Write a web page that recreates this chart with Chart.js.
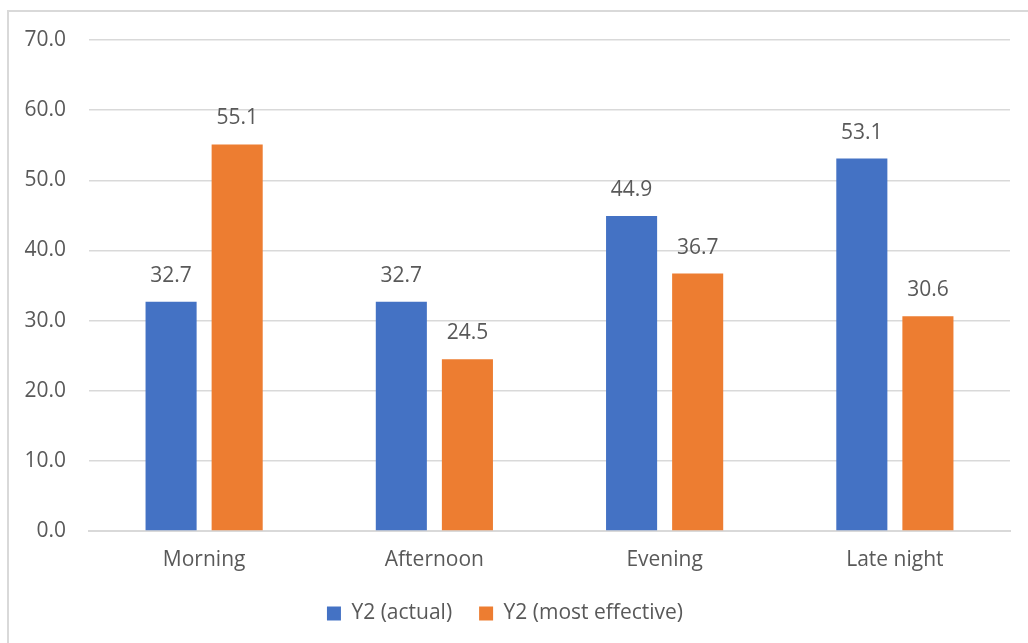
<!DOCTYPE html>
<html>
<head>
<meta charset="utf-8">
<script src="https://cdn.jsdelivr.net/npm/chart.js@4"></script>
<style>
  html, body { margin:0; padding:0; background:#fff; }
  #frame { position:absolute; left:7px; top:10px; width:1040px; height:660px; border:2px solid #d9d9d9; box-sizing:border-box; }
  #wrap { position:absolute; left:0; top:0; width:1028px; height:643px; }
</style>
</head>
<body>
<div id="frame"></div>
<div id="wrap"><canvas id="c"></canvas></div>
<script>
const categories = ["Morning", "Afternoon", "Evening", "Late night"];
const actual = [32.7, 32.7, 44.9, 53.1];
const mostEffective = [55.1, 24.5, 36.7, 30.6];
const seriesNames = ["Y2 (actual)", "Y2 (most effective)"];

const C = { blue:"#4472c4", orange:"#ed7d31", text:"#595959", grid:"#d9d9d9" };
const FONT = "'Open Sans', sans-serif";
Chart.defaults.font.family = FONT;
Chart.defaults.font.size = 21;
Chart.defaults.color = C.text;

const valueLabels = {
  id:"valueLabels",
  afterDatasetsDraw(chart){
    const ctx = chart.ctx;
    ctx.save();
    ctx.font = "21px " + FONT;
    ctx.fillStyle = C.text;
    ctx.textAlign = "center";
    ctx.textBaseline = "middle";
    chart.data.datasets.forEach((ds, i) => {
      chart.getDatasetMeta(i).data.forEach((bar, j) => {
        ctx.fillText(ds.data[j].toFixed(1), bar.x, bar.y - 26);
      });
    });
    ctx.restore();
  }
};

new Chart(document.getElementById("c"), {
  type:"bar",
  data:{
    labels:categories,
    datasets:[
      { label:seriesNames[0], data:actual, backgroundColor:C.blue, categoryPercentage:0.574, barPercentage:0.773 },
      { label:seriesNames[1], data:mostEffective, backgroundColor:C.orange, categoryPercentage:0.574, barPercentage:0.773 }
    ]
  },
  options:{
    responsive:true, maintainAspectRatio:false, animation:false,
    layout:{ padding:{ top:40, right:18, bottom:9, left:0 } },
    plugins:{
      legend:{ position:"bottom", labels:{ boxWidth:14, boxHeight:14, padding:27, color:C.text, font:{ size:21 } } },
      tooltip:{ enabled:false }
    },
    scales:{
      x:{
        grid:{ display:false, drawTicks:false },
        border:{ color:C.grid, width:2 },
        ticks:{ padding:16 },
        afterFit(s){ s.height = 45; }
      },
      y:{
        min:0, max:70,
        ticks:{ stepSize:10, padding:23, callback:v => v.toFixed(1) },
        grid:{ color:C.grid, lineWidth:1.5, drawTicks:false },
        border:{ display:false },
        afterFit(s){ s.width = 89; }
      }
    }
  },
  plugins:[valueLabels]
});
</script>
</body>
</html>
